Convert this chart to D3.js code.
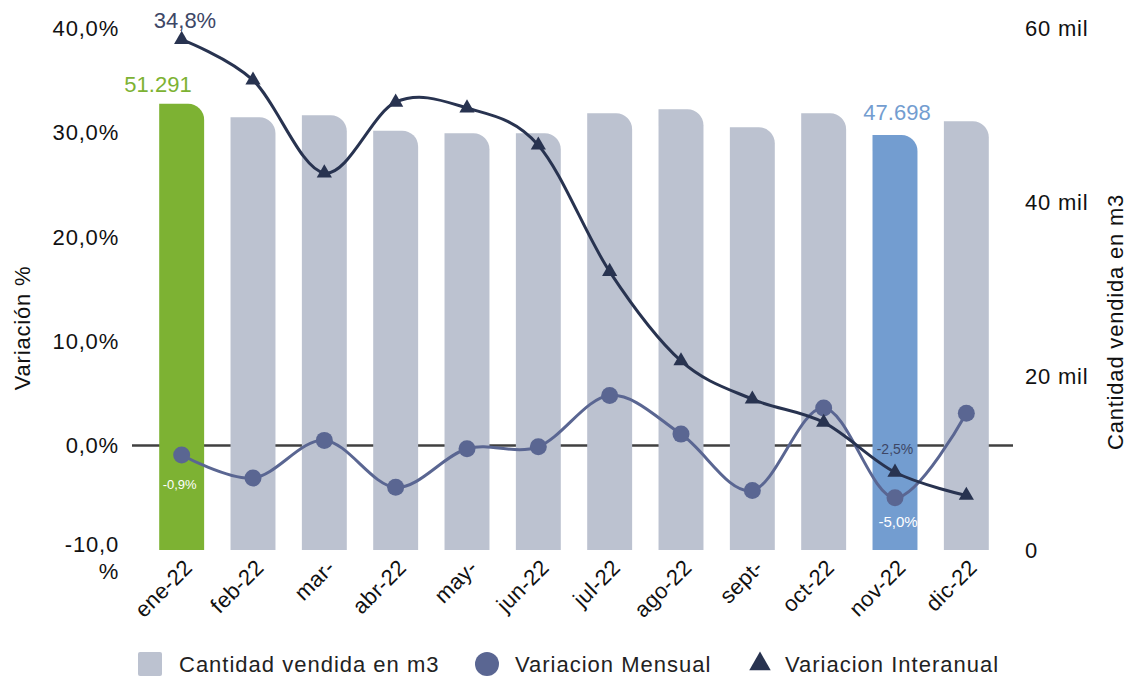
<!DOCTYPE html>
<html>
<head>
<meta charset="utf-8">
<script src="https://cdn.jsdelivr.net/npm/d3@7"></script>
<style>
  body { margin: 0; background: #fff; }
  text { font-family: "Liberation Sans", Arial, sans-serif; }
</style>
</head>
<body>
<script>
// datos
const meses = ["ene-22", "feb-22", "mar-", "abr-22", "may-", "jun-22", "jul-22", "ago-22", "sept-", "oct-22", "nov-22", "dic-22"];
const cantidad = [51291, 49740, 49970, 48200, 47900, 47900, 50200, 50660, 48590, 50200, 47698, 49280];
const varMensual = [-0.9, -3.1, 0.5, -4.0, -0.3, -0.1, 4.8, 1.1, -4.3, 3.6, -5.0, 3.1];
const varInteranual = [34.8, 31.3, 23.3, 29.4, 28.9, 25.7, 14.8, 7.1, 3.8, 1.8, -2.5, -4.5];
const ticksPct = [-10, 0, 10, 20, 30, 40];
const ticksCant = [0, 20000, 40000, 60000];

const W = 1134, H = 677;
const marge = { top: 28, bottom: 550, left: 146, right: 1002 };

const svg = d3.select("body").append("svg")
  .attr("width", W)
  .attr("height", H);

const x = d3.scaleBand()
  .domain(meses)
  .range([marge.left, marge.right])
  .paddingInner(0.37)
  .paddingOuter(0.185);

const yPct = d3.scaleLinear().domain([-10, 40]).range([marge.bottom, marge.top]);
const yCant = d3.scaleLinear().domain([0, 60000]).range([marge.bottom, marge.top]);
// la serie interanual va en un eje secundario oculto
const yInter = d3.scaleLinear().domain([-9.2, 35.8]).range([marge.bottom, marge.top]);

const colBarra = "#bcc2d0", colVerde = "#7db233", colAzul = "#739dd0";
const colMensual = "#5a6692", colInter = "#283350";

// formato con coma decimal y guion normal
const fmtPct = d => d3.format(".1f")(d).replace(".", ",").replace("\u2212", "-");

// eje izquierdo
const yl = svg.append("g").selectAll("text")
  .data(ticksPct)
  .enter()
  .append("text")
  .attr("x", 119)
  .attr("y", d => yPct(d))
  .attr("dy", "0.35em")
  .attr("text-anchor", "end")
  .attr("font-size", 22)
  .attr("letter-spacing", "0.8px")
  .attr("fill", "#111");
yl.each(function (d) {
  const t = d3.select(this);
  if (d < 0) {
    t.append("tspan").text(fmtPct(d));
    t.append("tspan").attr("x", 119).attr("dy", 27).text("%");
    t.attr("dy", "0.1em");
  } else {
    t.text(fmtPct(d) + "%");
  }
});

// eje derecho
svg.append("g").selectAll("text")
  .data(ticksCant)
  .enter()
  .append("text")
  .attr("x", 1025)
  .attr("y", d => yCant(d))
  .attr("dy", "0.35em")
  .attr("font-size", 22)
  .attr("letter-spacing", "0.8px")
  .attr("fill", "#111")
  .text(d => d === 0 ? "0" : (d / 1000) + " mil");

// titulos
svg.append("text")
  .attr("transform", `translate(30,328) rotate(-90)`)
  .attr("text-anchor", "middle")
  .attr("font-size", 22)
  .attr("letter-spacing", "0.8px")
  .attr("fill", "#111")
  .text("Variación %");
svg.append("text")
  .attr("transform", `translate(1123,322) rotate(-90)`)
  .attr("text-anchor", "middle")
  .attr("font-size", 22)
  .attr("letter-spacing", "0.8px")
  .attr("fill", "#111")
  .text("Cantidad vendida en m3");

// linea del cero (detras de las barras)
svg.append("line")
  .attr("x1", 132).attr("x2", 1013)
  .attr("y1", yPct(0)).attr("y2", yPct(0))
  .attr("stroke", "#404040")
  .attr("stroke-width", 2.5);

// barras con esquina superior derecha redondeada
const r = 16;
function barra(x0, y0, w, h) {
  return `M${x0},${y0 + h}V${y0}H${x0 + w - r}A${r},${r} 0 0 1 ${x0 + w},${y0 + r}V${y0 + h}Z`;
}
svg.append("g").selectAll("path")
  .data(cantidad)
  .enter()
  .append("path")
  .attr("d", (d, i) => barra(x(meses[i]), yCant(d), x.bandwidth(), marge.bottom - yCant(d)))
  .attr("fill", (d, i) => i === 0 ? colVerde : i === 10 ? colAzul : colBarra);

const cx = i => x(meses[i]) + x.bandwidth() / 2;

// variacion mensual
const lineM = d3.line()
  .x((d, i) => cx(i))
  .y(d => yPct(d))
  .curve(d3.curveCatmullRom.alpha(0));
svg.append("path")
  .attr("d", lineM(varMensual))
  .attr("fill", "none")
  .attr("stroke", colMensual)
  .attr("stroke-width", 3);
svg.append("g").selectAll("circle")
  .data(varMensual)
  .enter()
  .append("circle")
  .attr("cx", (d, i) => cx(i))
  .attr("cy", d => yPct(d))
  .attr("r", 8.5)
  .attr("fill", colMensual);

// variacion interanual
const lineI = d3.line()
  .x((d, i) => cx(i))
  .y(d => yInter(d))
  .curve(d3.curveCatmullRom.alpha(0));
svg.append("path")
  .attr("d", lineI(varInteranual))
  .attr("fill", "none")
  .attr("stroke", colInter)
  .attr("stroke-width", 3);
const tri = d3.symbol(d3.symbolTriangle, 100);
svg.append("g").selectAll("path")
  .data(varInteranual)
  .enter()
  .append("path")
  .attr("d", tri)
  .attr("transform", (d, i) => `translate(${cx(i)},${yInter(d)})`)
  .attr("fill", colInter);

// etiquetas de datos
const fmtLbl = d => fmtPct(d) + "%";
const fmtMil = d => d3.format(",")(d).replace(",", ".");
const lab = (xx, yy, txt, size, color) => svg.append("text")
  .attr("x", xx).attr("y", yy).attr("dy", "0.35em")
  .attr("text-anchor", "middle")
  .attr("font-family", "'Open Sans', sans-serif")
  .attr("font-size", size)
  .attr("fill", color)
  .text(txt);
lab(185, 20, fmtLbl(varInteranual[0]), 22, "#3d4766");
lab(158, 84, fmtMil(cantidad[0]), 22, colVerde);
lab(cx(10) + 2, 112, fmtMil(cantidad[10]), 22, colAzul);
lab(cx(0) - 2, 484, fmtLbl(varMensual[0]), 13, "#fff");
lab(cx(10), 449, fmtLbl(varInteranual[10]), 14, "#3d4766");
lab(cx(10) + 3, 522, fmtLbl(varMensual[10]), 15, "#fff");

// meses (rotados)
svg.append("g").selectAll("text")
  .data(meses)
  .enter()
  .append("text")
  .attr("transform", d => `translate(${x(d) + x.bandwidth() / 2 + 12},${569}) rotate(-45)`)
  .attr("text-anchor", "end")
  .attr("font-size", 22)
  .attr("letter-spacing", "0.3px")
  .attr("fill", "#111")
  .text(d => d);

// leyenda
const ly = 664;
const leg = svg.append("g")
  .attr("font-size", 22)
  .attr("letter-spacing", "1px")
  .attr("fill", "#222");
leg.append("rect").attr("x", 138).attr("y", ly - 12).attr("width", 24).attr("height", 24).attr("rx", 2).attr("fill", colBarra);
leg.append("text").attr("x", 179).attr("y", ly).attr("dy", "0.35em").text("Cantidad vendida en m3");
leg.append("circle").attr("cx", 487).attr("cy", ly).attr("r", 12).attr("fill", colMensual);
leg.append("text").attr("x", 515).attr("y", ly).attr("dy", "0.35em").text("Variacion Mensual");
leg.append("path").attr("d", d3.symbol(d3.symbolTriangle, 200)).attr("transform", `translate(760,${ly})`).attr("fill", colInter);
leg.append("text").attr("x", 785).attr("y", ly).attr("dy", "0.35em").text("Variacion Interanual");
</script>
</body>
</html>
